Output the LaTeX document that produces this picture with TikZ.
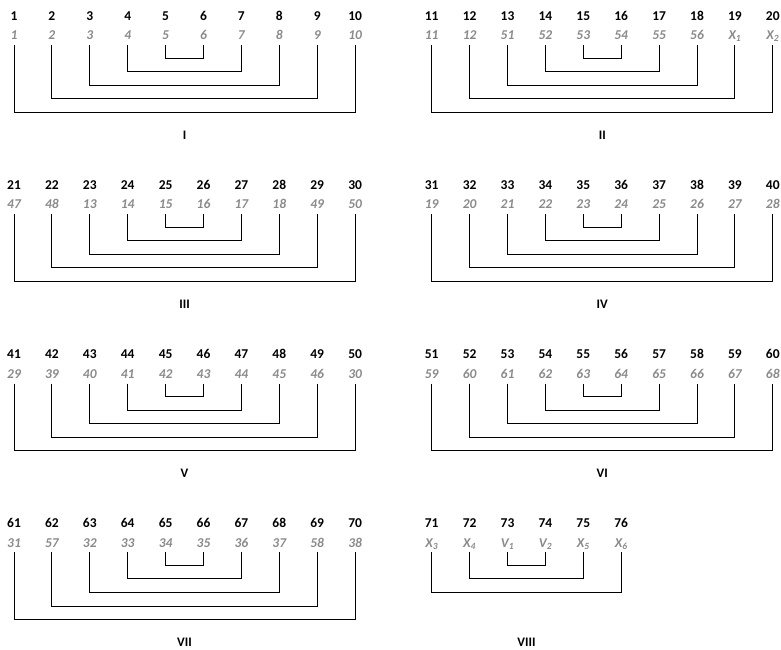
\documentclass[tikz,border=0pt]{standalone}
\usepackage{fontspec}
\setmainfont{Carlito}
\definecolor{numgray}{HTML}{8A8A8A}
\tikzset{
  blk/.style={inner sep=0pt, anchor=base, font=\fontsize{13.5}{13.5}\selectfont\bfseries, text=black},
  gry/.style={inner sep=0pt, anchor=base, font=\fontsize{13.5}{13.5}\selectfont\bfseries\itshape, text=numgray},
  lbl/.style={inner sep=0pt, anchor=base, font=\fontsize{13}{13}\selectfont\bfseries},
  brk/.style={draw=black, line width=0.9pt},
}
% #1 prefix, #2 x0, #3 y0, #4 black list, #5 gray list, #6 label, #7 n
\newcommand\mypanel[7]{%
  \foreach \t [count=\i] in {#4} {
    \node[blk] (#1t\i) at ({#2+(\i-1)*37.9},{#3+4.3}) {\t};
  }
  \foreach \g [count=\i] in {#5} {
    \node[gry] (#1g\i) at ({#2+(\i-1)*37.9},{#3+23.8}) {\g};
    \coordinate (#1c\i) at ({#2+(\i-1)*37.9},{#3+29});
  }
  \pgfmathtruncatemacro\halfn{#7/2}
  \foreach \k in {1,...,\halfn} {
    \pgfmathtruncatemacro\jj{#7+1-\k}
    \pgfmathsetmacro\dd{#3+42+13.6*(\halfn-\k)}
    \coordinate (#1b\k) at ({#2+(\k-1)*37.9},\dd);
    \draw[brk] (#1c\k) -- (#1b\k) -| (#1c\jj);
  }
  \node[lbl] (#1lab) at ({#2+(#7-1)*37.9/2},{#3+123.2}) {#6};
}
\begin{document}
\begin{tikzpicture}[x=1pt,y=-1pt]
\useasboundingbox (0,0) rectangle (781,649);
\mypanel{A}{14}{16}{1,2,3,4,5,6,7,8,9,10}{1,2,3,4,5,6,7,8,9,10}{I}{10}
\mypanel{B}{431.7}{16}{11,12,13,14,15,16,17,18,19,20}{11,12,51,52,53,54,55,56,{X\textsubscript{1}},{X\textsubscript{2}}}{II}{10}
\mypanel{C}{14}{185}{21,22,23,24,25,26,27,28,29,30}{47,48,13,14,15,16,17,18,49,50}{III}{10}
\mypanel{D}{431.7}{185}{31,32,33,34,35,36,37,38,39,40}{19,20,21,22,23,24,25,26,27,28}{IV}{10}
\mypanel{E}{14}{354.5}{41,42,43,44,45,46,47,48,49,50}{29,39,40,41,42,43,44,45,46,30}{V}{10}
\mypanel{F}{431.7}{354.5}{51,52,53,54,55,56,57,58,59,60}{59,60,61,62,63,64,65,66,67,68}{VI}{10}
\mypanel{G}{14}{523.3}{61,62,63,64,65,66,67,68,69,70}{31,57,32,33,34,35,36,37,58,38}{VII}{10}
\mypanel{H}{431.7}{523.3}{71,72,73,74,75,76}{{X\textsubscript{3}},{X\textsubscript{4}},{V\textsubscript{1}},{V\textsubscript{2}},{X\textsubscript{5}},{X\textsubscript{6}}}{VIII}{6}
\end{tikzpicture}
\end{document}
